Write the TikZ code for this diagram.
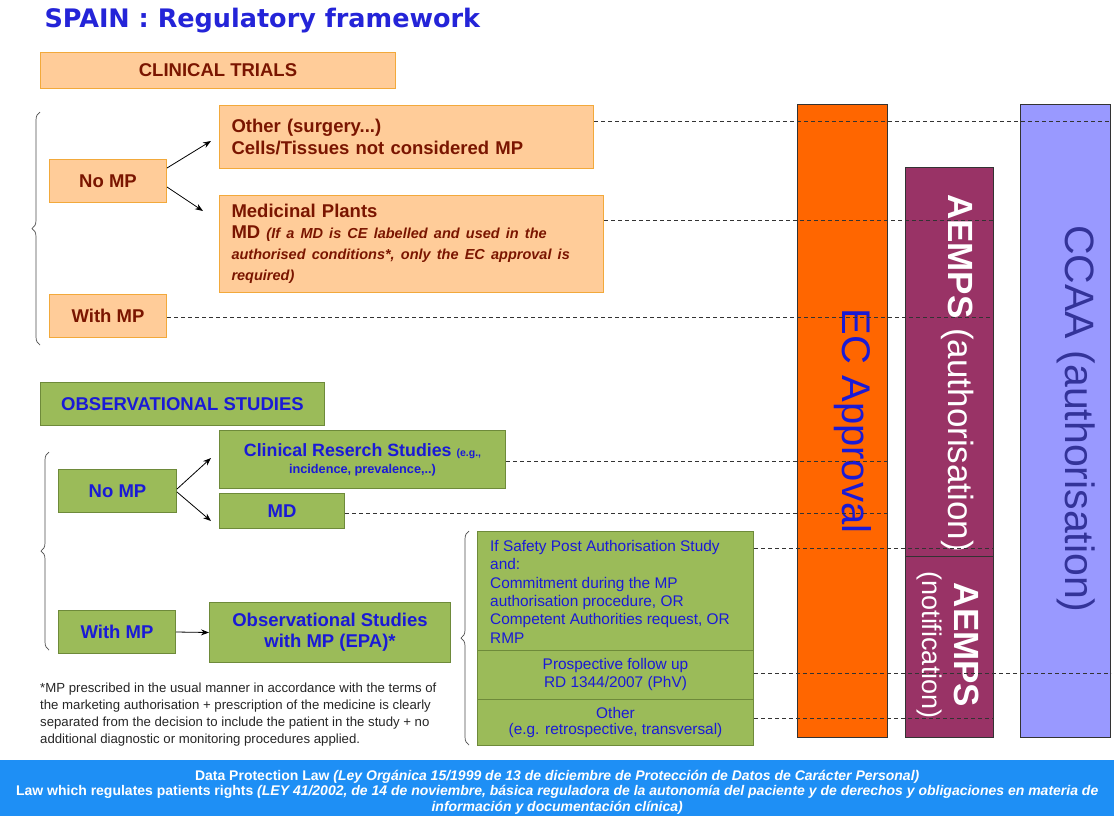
\documentclass[tikz,border=0pt]{standalone}
\usepackage{fontspec}
\setmainfont{Liberation Sans}
\newfontfamily\titlefont{DejaVu Sans}
\usetikzlibrary{arrows.meta,decorations.pathreplacing}
\definecolor{ctfill}{HTML}{FFCC99}
\definecolor{ctborder}{HTML}{F2A93B}
\definecolor{ctred}{HTML}{7A1500}
\definecolor{osfill}{HTML}{9BBB59}
\definecolor{osborder}{HTML}{6E8A3A}
\definecolor{osblue}{HTML}{1A1AD6}
\definecolor{ecorange}{HTML}{FF6600}
\definecolor{aempscol}{HTML}{993366}
\definecolor{ccaacol}{HTML}{9999FF}
\definecolor{ccaatext}{HTML}{333399}
\definecolor{barblue}{HTML}{1E8FF5}
\definecolor{titleblue}{HTML}{2424D8}
\begin{document}
\begin{tikzpicture}[x=1pt,y=-1pt,
  ctbox/.style={draw=ctborder,fill=ctfill,line width=1pt,anchor=north west,inner sep=0pt,text=ctred,font=\bfseries\fontsize{18.5}{22}\selectfont},
  osbox/.style={draw=osborder,fill=osfill,line width=1pt,anchor=north west,inner sep=0pt,text=osblue,font=\bfseries\fontsize{18.5}{22}\selectfont},
  colbox/.style={draw=black!80,line width=1pt,anchor=north west,inner sep=0pt},
  link/.style={dash pattern=on 4pt off 3pt,line width=0.9pt,draw=black!80},
  arr/.style={-{Stealth[length=8pt,width=6pt]},line width=0.8pt},
  bracestyle/.style={decorate,decoration={brace,amplitude=8pt},line width=0.7pt,draw=black!70}
]
\useasboundingbox (0,0) rectangle (1114,815);

% title
\node[anchor=west,text=titleblue,font=\titlefont\bfseries\fontsize{25.5}{28}\selectfont] (title) at (41,21) {SPAIN : Regulatory framework};

% right columns
\node[colbox,fill=ecorange,minimum width=90pt,minimum height=633pt] (ec) at (797,104) {};
\node[colbox,fill=aempscol,minimum width=88pt,minimum height=389pt] (aempsA) at (905,167) {};
\node[colbox,fill=aempscol,minimum width=88pt,minimum height=181pt] (aempsN) at (905,556) {};
\node[colbox,fill=ccaacol,minimum width=90pt,minimum height=633pt] (ccaa) at (1020,104) {};
\node[rotate=-90,text=osblue,font=\fontsize{40}{44}\selectfont] (ectxt) at (853,421) {EC Approval};
\node[rotate=-90,text=white,font=\fontsize{35}{40}\selectfont] (aemtxt) at (958,373) {\bfseries AEMPS\mdseries{} (authorisation)};
\node[rotate=-90,text=white,align=center,font=\fontsize{35}{34}\selectfont] (aemntxt) at (948,645) {\bfseries AEMPS\\[-2pt]\fontsize{27}{30}\selectfont (notification)};
\node[rotate=-90,text=ccaatext,font=\fontsize{41}{44}\selectfont] (ccaatxt) at (1076,419) {CCAA (authorisation)};

% clinical trials
\node[ctbox,minimum width=355pt,minimum height=36pt] (ct) at (40,52) {CLINICAL TRIALS};
\node[ctbox,minimum width=117pt,minimum height=43pt] (nomp1) at (49,159) {No MP};
\node[ctbox,minimum width=374pt,minimum height=63pt,align=left,text width=350pt] (other) at (219,105) {Other (surgery...)\\Cells/Tissues not considered MP};
\node[ctbox,minimum width=384pt,minimum height=97pt,align=left,text width=360pt,font=\bfseries\fontsize{18.5}{21}\selectfont] (med) at (219,195) {Medicinal Plants\\MD {\itshape\fontsize{14.5}{21}\selectfont (If a MD is CE labelled and used in the\\authorised conditions*, only the EC approval is\\required)}};
\node[ctbox,minimum width=117pt,minimum height=43pt] (withmp1) at (49,294) {With MP};

\coordinate (a1end) at (211,141);
\coordinate (a2end) at (203,211);
\draw[arr] ([yshift=13pt]nomp1.east) -- (a1end);
\draw[arr] ([yshift=-6pt]nomp1.east) -- (a2end);

\coordinate (b1s) at (40,345);
\coordinate (b1e) at (40,112);
\draw[bracestyle] (b1s) -- (b1e);

% observational studies
\node[osbox,minimum width=284pt,minimum height=43pt] (os) at (40,382) {OBSERVATIONAL STUDIES};
\node[osbox,minimum width=118pt,minimum height=43pt] (nomp2) at (58,469) {No MP};
\node[osbox,minimum width=286pt,minimum height=58pt,align=center,font=\bfseries\fontsize{17.8}{20}\selectfont] (crs) at (219,430) {Clinical Reserch Studies {\fontsize{10.5}{12}\selectfont (e.g.,}\\[-3pt]{\fontsize{12.7}{14}\selectfont incidence, prevalence,..)}};
\node[osbox,minimum width=125pt,minimum height=35pt] (md) at (219,493) {MD};
\node[osbox,minimum width=117pt,minimum height=43pt] (withmp2) at (58,610) {With MP};
\node[osbox,minimum width=241pt,minimum height=60pt,align=center,font=\bfseries\fontsize{18.5}{21}\selectfont] (epa) at (209,602) {Observational Studies\\with MP (EPA)*};

\coordinate (a3end) at (211,458);
\coordinate (a4end) at (211,521);
\draw[arr] ([yshift=2pt]nomp2.east) -- (a3end);
\draw[arr] ([yshift=-1pt]nomp2.east) -- (a4end);
\draw[arr] (withmp2.east) -- (epa.west);

\coordinate (b2s) at (49,650);
\coordinate (b2e) at (49,452);
\draw[bracestyle] (b2s) -- (b2e);

% stacked box
\node[osbox,minimum width=276pt,minimum height=119pt] (s1) at (477,531) {};
\node[anchor=north west,inner sep=0pt,align=left,text=osblue,font=\fontsize{15.4}{18.4}\selectfont] (s1txt) at (490,540) {If Safety Post Authorisation Study\\and:\\Commitment during the MP\\authorisation procedure, OR\\Competent Authorities request, OR\\RMP};
\node[osbox,font=\fontsize{15.4}{18}\selectfont,minimum width=276pt,minimum height=49pt,align=center] (s2) at (477,650) {Prospective follow up\\RD 1344/2007 (PhV)};
\node[osbox,font=\fontsize{15.4}{15.5}\selectfont,minimum width=276pt,minimum height=46pt,align=center] (s3) at (477,699) {Other\\(e.g. retrospective, transversal)};

\coordinate (b3s) at (469,745);
\coordinate (b3e) at (469,531);
\draw[bracestyle] (b3s) -- (b3e);

% footnote
\node[anchor=north west,inner sep=0pt,align=left,text=black!85,font=\fontsize{13.2}{16.8}\selectfont] (foot) at (40,683) {*MP prescribed in the usual manner in accordance with the terms of\\the marketing authorisation + prescription of the medicine is clearly\\separated from the decision to include the patient in the study + no\\additional diagnostic or monitoring procedures applied.};

% dashed links
\coordinate (l1) at ([yshift=-16pt]other.north east);
\draw[link] (l1) -- (l1 -| ccaa.east);
\coordinate (l2) at ([yshift=-25pt]med.north east);
\draw[link] (l2) -- (l2 -| aempsA.east);
\coordinate (l3) at ([yshift=-1pt]withmp1.east);
\draw[link] (l3) -- (l3 -| aempsA.east);
\coordinate (l4) at ([yshift=-2pt]crs.east);
\draw[link] (l4) -- (l4 -| ec.east);
\coordinate (l5) at ([yshift=-2pt]md.east);
\draw[link] (l5) -- (l5 -| ec.east);
\coordinate (l6) at ([yshift=-17pt]s1.north east);
\draw[link] (l6) -- (l6 -| aempsA.east);
\coordinate (l7) at ([yshift=2pt]s2.east);
\draw[link] (l7) -- (l7 -| ccaa.east);
\coordinate (l8) at ([yshift=4pt]s3.east);
\draw[link] (l8) -- (l8 -| aempsN.east);

% bottom bar
\node[anchor=north west,fill=barblue,minimum width=1114pt,minimum height=62pt,inner sep=0pt,text=white,align=center,font=\bfseries\fontsize{14}{15.5}\selectfont] (bar) at (0,760) {\rule{0pt}{12pt}Data Protection Law {\itshape(Ley Orgánica 15/1999 de 13 de diciembre de Protección de Datos de Carácter Personal)}\\Law which regulates patients rights {\itshape(LEY 41/2002, de 14 de noviembre, básica reguladora de la autonomía del paciente y de derechos y obligaciones en materia de}\\{\itshape información y documentación clínica)}};
\end{tikzpicture}
\end{document}
